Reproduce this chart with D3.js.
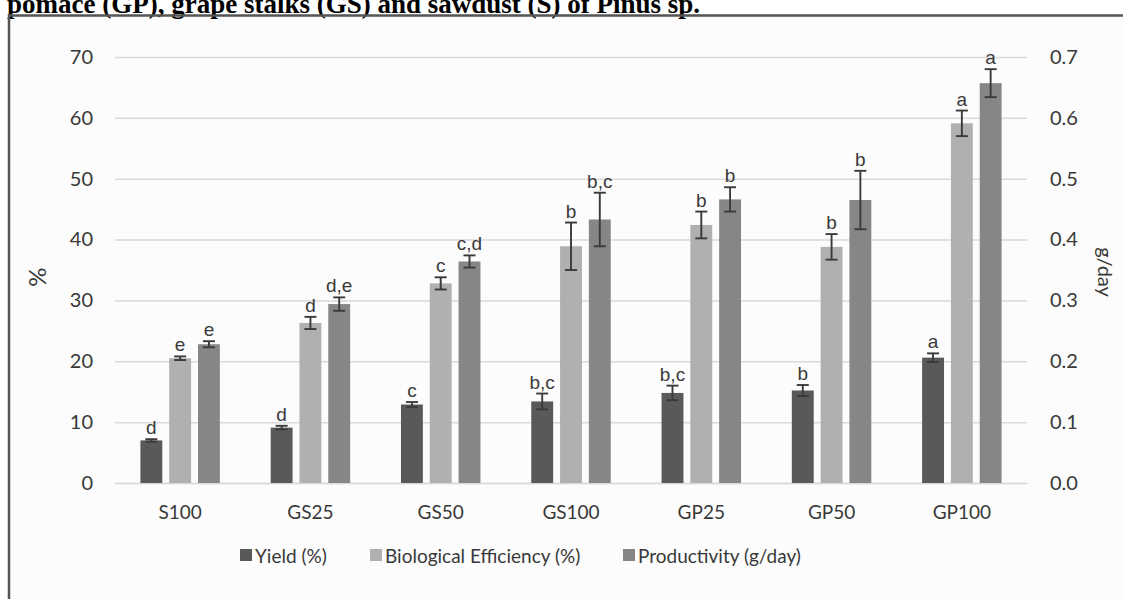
<!DOCTYPE html>
<html><head><meta charset="utf-8">
<script src="https://cdn.jsdelivr.net/npm/d3@7"></script>
<style>body{margin:0;background:#fff}svg{display:block}</style>
</head><body><svg id="c" width="1123" height="599"></svg>
<script>
const categories = ["S100","GS25","GS50","GS100","GP25","GP50","GP100"];
const seriesNames = ["Yield (%)","Biological Efficiency (%)","Productivity (g/day)"];
const yieldPct = [7.0, 9.1, 12.9, 13.4, 14.8, 15.2, 20.6];
const yieldErr = [0.2, 0.3, 0.4, 1.3, 1.2, 0.9, 0.7];
const yieldLetters = ["d","d","c","b,c","b,c","b","a"];
const bePct = [20.5, 26.3, 32.8, 38.9, 42.4, 38.8, 59.1];
const beErr = [0.3, 1.0, 1.0, 3.9, 2.2, 2.1, 2.1];
const beLetters = ["e","d","c","b","b","b","a"];
const prodGday = [0.228, 0.294, 0.364, 0.433, 0.466, 0.465, 0.657];
const prodErr = [0.005, 0.011, 0.010, 0.044, 0.020, 0.048, 0.023];
const prodLetters = ["e","d,e","c,d","b,c","b","b","a"];
const leftTicks = [0,10,20,30,40,50,60,70];
const rightTicks = [0,0.1,0.2,0.3,0.4,0.5,0.6,0.7];
const titleText = "pomace (GP), grape stalks (GS) and sawdust (S) of Pinus sp.";

const colors = ["#595959","#b0b0b0","#868686"];
const font = "Lato, 'Open Sans', sans-serif";
const svg = d3.select("#c");
const L = 115, R = 1027, T = 57, B = 483;

const yL = d3.scaleLinear().domain([0,70]).range([B,T]);
const yR = d3.scaleLinear().domain([0,0.7]).range([B,T]);
const x0 = d3.scaleBand().domain(categories).range([L,R]);
const bw = x0.bandwidth();
const x1 = d3.scaleBand().domain(seriesNames).range([bw*0.195, bw*0.805]).paddingInner(0.24);

// page frame
svg.append("rect").attr("x",9).attr("y",15).attr("width",1114).attr("height",584).attr("fill","#fcfcfc");

svg.append("text").attr("x",7).attr("y",13)
  .attr("font-family","'Liberation Serif', 'Times New Roman', serif").attr("font-weight","bold")
  .attr("font-size",27).attr("fill","#000").text(titleText);

svg.append("line").attr("x1",8).attr("x2",1123).attr("y1",15.5).attr("y2",15.5).attr("stroke","#555").attr("stroke-width",2.5);
svg.append("line").attr("x1",9).attr("x2",9).attr("y1",14).attr("y2",599).attr("stroke","#555").attr("stroke-width",2.5);

// gridlines
const grid = svg.append("g").attr("transform",`translate(${L},0)`)
  .call(d3.axisLeft(yL).tickValues(leftTicks).tickSize(-(R-L)).tickFormat(""));
grid.select(".domain").remove();
grid.selectAll("line").attr("stroke","#d9d9d9").attr("stroke-width",1.5);

// left axis
const ax = svg.append("g").attr("transform",`translate(${L},0)`)
  .call(d3.axisLeft(yL).tickValues(leftTicks).tickSize(0).tickPadding(22));
ax.select(".domain").remove();
ax.selectAll("text").attr("font-family",font).attr("font-size",20).attr("fill","#383838");

// right axis
const ar = svg.append("g").attr("transform",`translate(${R},0)`)
  .call(d3.axisRight(yR).tickValues(rightTicks).tickSize(0).tickPadding(23).tickFormat(d3.format(".1f")));
ar.select(".domain").remove();
ar.selectAll("text").attr("font-family",font).attr("font-size",20).attr("fill","#383838");

// bottom axis
const ab = svg.append("g").attr("transform",`translate(0,${B})`)
  .call(d3.axisBottom(x0).tickSize(0).tickPadding(23));
ab.select(".domain").attr("stroke","#d9d9d9").attr("stroke-width",1.5);
ab.selectAll("text").attr("font-family",font).attr("font-size",19).attr("fill","#383838");

// axis titles
svg.append("text").attr("transform","translate(40,277) rotate(-90)").attr("text-anchor","middle")
  .attr("dominant-baseline","middle").attr("font-family",font).attr("font-size",24).attr("fill","#383838").text("%");
svg.append("text").attr("transform","translate(1103,272) rotate(90)").attr("text-anchor","middle")
  .attr("dominant-baseline","middle").attr("font-family",font).attr("font-size",20).attr("fill","#383838").text("g/day");

// bars
const series = [
  {name:seriesNames[0], vals:yieldPct, err:yieldErr, let:yieldLetters, y:yL},
  {name:seriesNames[1], vals:bePct, err:beErr, let:beLetters, y:yL},
  {name:seriesNames[2], vals:prodGday, err:prodErr, let:prodLetters, y:yR}
];
const rows = [];
series.forEach((s,si)=>categories.forEach((c,ci)=>rows.push({c, si, v:s.vals[ci], e:s.err[ci], l:s.let[ci], y:s.y, name:s.name})));
const g = svg.append("g");
g.selectAll("rect.bar").data(rows).join("rect").attr("class","bar")
  .attr("x",d=>x0(d.c)+x1(d.name)).attr("width",x1.bandwidth())
  .attr("y",d=>d.y(d.v)).attr("height",d=>B-d.y(d.v)).attr("fill",d=>colors[d.si]);

const cap = 6;
const cx = d=>x0(d.c)+x1(d.name)+x1.bandwidth()/2;
const eb = g.selectAll("g.err").data(rows).join("g").attr("class","err")
  .attr("stroke","#3a3a3a").attr("stroke-width",1.9);
eb.append("line").attr("x1",cx).attr("x2",cx)
  .attr("y1",d=>d.y(d.v+d.e)).attr("y2",d=>d.y(d.v-d.e));
eb.append("line").attr("x1",d=>cx(d)-cap).attr("x2",d=>cx(d)+cap)
  .attr("y1",d=>d.y(d.v+d.e)).attr("y2",d=>d.y(d.v+d.e));
eb.append("line").attr("x1",d=>cx(d)-cap).attr("x2",d=>cx(d)+cap)
  .attr("y1",d=>d.y(d.v-d.e)).attr("y2",d=>d.y(d.v-d.e));

g.selectAll("text.let").data(rows).join("text").attr("class","let")
  .attr("x",cx).attr("y",d=>d.y(d.v+d.e)-5)
  .attr("text-anchor","middle").attr("font-family","'Liberation Sans', Arial, sans-serif")
  .attr("font-size",19).attr("fill","#3a3a3a").text(d=>d.l);

// legend
const legX = [240, 370, 623];
const lg = svg.append("g").selectAll("g").data(seriesNames).join("g")
  .attr("transform",(d,i)=>`translate(${legX[i]},555)`);
lg.append("rect").attr("x",0).attr("y",-6).attr("width",12).attr("height",12).attr("fill",(d,i)=>colors[i]);
lg.append("text").attr("x",15).attr("y",0).attr("dominant-baseline","central")
  .attr("font-family",font).attr("font-size",19).attr("fill","#383838").text(d=>d);
</script></body></html>
